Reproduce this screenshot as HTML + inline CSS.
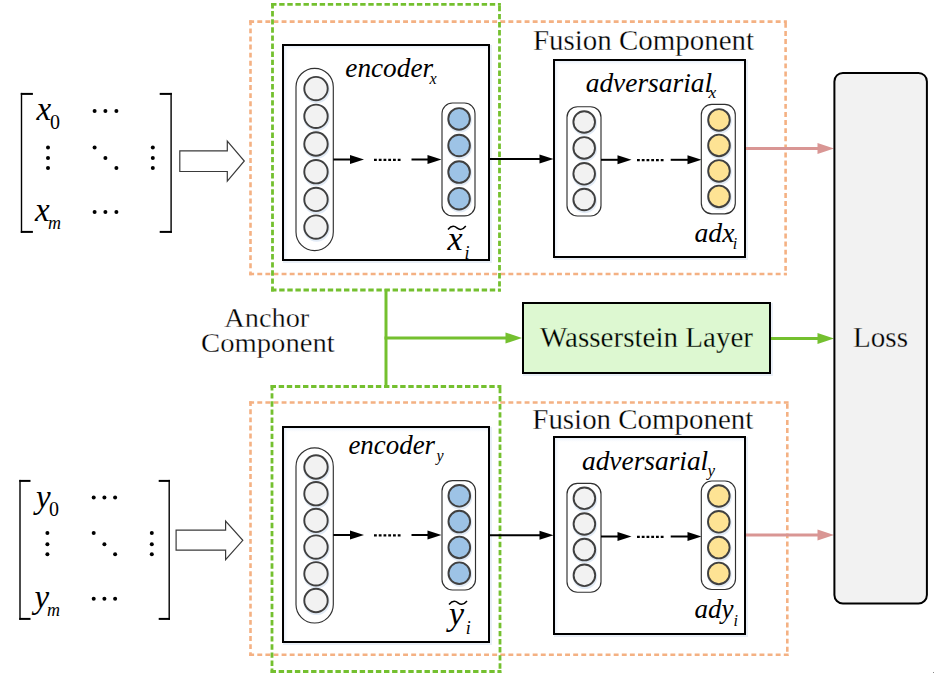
<!DOCTYPE html><html><head><meta charset="utf-8"><style>html,body{margin:0;padding:0;background:#fff;overflow:hidden}svg{display:block}text{font-family:"Liberation Serif",serif;fill:#000}</style></head><body>
<svg width="934" height="681" viewBox="0 0 934 681">
<defs><linearGradient id="gt" x1="0" y1="0" x2="0" y2="1"><stop offset="0" stop-color="#e6eef9"/><stop offset="1" stop-color="#fff" stop-opacity="0"/></linearGradient><linearGradient id="gl" x1="0" y1="0" x2="1" y2="0"><stop offset="0" stop-color="#e6eef9"/><stop offset="1" stop-color="#fff" stop-opacity="0"/></linearGradient></defs>
<rect x="20.8" y="92.9" width="1.4" height="140.0" fill="#000"/>
<rect x="20.8" y="92.9" width="12.1" height="2" fill="#000"/>
<rect x="20.8" y="230.9" width="12.1" height="2" fill="#000"/>
<rect x="170.4" y="92.9" width="1.4" height="140.0" fill="#000"/>
<rect x="159.7" y="92.9" width="12.1" height="2" fill="#000"/>
<rect x="159.7" y="230.9" width="12.1" height="2" fill="#000"/>
<circle cx="94.6" cy="110.9" r="2.0" fill="#000"/>
<circle cx="94.6" cy="211.9" r="2.0" fill="#000"/>
<circle cx="105.4" cy="110.9" r="2.0" fill="#000"/>
<circle cx="105.4" cy="211.9" r="2.0" fill="#000"/>
<circle cx="116.4" cy="110.9" r="2.0" fill="#000"/>
<circle cx="116.4" cy="211.9" r="2.0" fill="#000"/>
<circle cx="48" cy="147.4" r="2.0" fill="#000"/>
<circle cx="94.6" cy="147.4" r="2.0" fill="#000"/>
<circle cx="152.8" cy="147.4" r="2.0" fill="#000"/>
<circle cx="48" cy="157.9" r="2.0" fill="#000"/>
<circle cx="105.4" cy="157.9" r="2.0" fill="#000"/>
<circle cx="152.8" cy="157.9" r="2.0" fill="#000"/>
<circle cx="48" cy="168" r="2.0" fill="#000"/>
<circle cx="116.4" cy="168" r="2.0" fill="#000"/>
<circle cx="152.8" cy="168" r="2.0" fill="#000"/>
<text x="36.5" y="120" font-size="33" font-style="italic">x</text>
<text x="50" y="129.3" font-size="20">0</text>
<text x="35" y="221" font-size="33" font-style="italic">x</text>
<text x="48" y="229.2" font-size="18" font-style="italic">m</text>
<rect x="19.3" y="479.9" width="1.4" height="140.0" fill="#000"/>
<rect x="19.3" y="479.9" width="11.2" height="2" fill="#000"/>
<rect x="19.3" y="617.9" width="11.2" height="2" fill="#000"/>
<rect x="168.5" y="479.9" width="1.4" height="140.0" fill="#000"/>
<rect x="158.7" y="479.9" width="11.2" height="2" fill="#000"/>
<rect x="158.7" y="617.9" width="11.2" height="2" fill="#000"/>
<circle cx="93.7" cy="497.5" r="2.0" fill="#000"/>
<circle cx="93.7" cy="598.7" r="2.0" fill="#000"/>
<circle cx="104.4" cy="497.5" r="2.0" fill="#000"/>
<circle cx="104.4" cy="598.7" r="2.0" fill="#000"/>
<circle cx="115.1" cy="497.5" r="2.0" fill="#000"/>
<circle cx="115.1" cy="598.7" r="2.0" fill="#000"/>
<circle cx="47.4" cy="533" r="2.0" fill="#000"/>
<circle cx="93.7" cy="533" r="2.0" fill="#000"/>
<circle cx="151.8" cy="533" r="2.0" fill="#000"/>
<circle cx="47.4" cy="544.3" r="2.0" fill="#000"/>
<circle cx="104.4" cy="544.3" r="2.0" fill="#000"/>
<circle cx="151.8" cy="544.3" r="2.0" fill="#000"/>
<circle cx="47.4" cy="554.2" r="2.0" fill="#000"/>
<circle cx="115.1" cy="554.2" r="2.0" fill="#000"/>
<circle cx="151.8" cy="554.2" r="2.0" fill="#000"/>
<text x="36" y="507.5" font-size="33" font-style="italic">y</text>
<text x="49" y="516" font-size="20">0</text>
<text x="34.5" y="608" font-size="33" font-style="italic">y</text>
<text x="47" y="615.8" font-size="18" font-style="italic">m</text>
<polygon points="179.8,150.8 227.3,150.8 227.3,141.2 244.3,161 227.3,181.2 227.3,171.5 179.8,171.5" fill="#fff" stroke="#3a3a3a" stroke-width="1.2" stroke-linejoin="miter"/>
<polygon points="176.1,530.1 225.6,530.1 225.6,521 242.8,540.3 225.6,559.6 225.6,550.2 176.1,550.2" fill="#fff" stroke="#3a3a3a" stroke-width="1.2" stroke-linejoin="miter"/>
<line x1="249.2" y1="21.6" x2="786.9" y2="21.6" stroke="#f4b183" stroke-width="2.6" stroke-dasharray="4.9 3.2"/>
<line x1="785.6" y1="22.9" x2="785.6" y2="275.3" stroke="#f4b183" stroke-width="2.6" stroke-dasharray="4.9 3.2"/>
<line x1="249.2" y1="274" x2="786.9" y2="274" stroke="#f4b183" stroke-width="2.6" stroke-dasharray="4.9 3.2"/>
<line x1="250.5" y1="20.3" x2="250.5" y2="275.3" stroke="#f4b183" stroke-width="2.6" stroke-dasharray="4.9 3.2"/>
<line x1="271.1" y1="4.4" x2="500.9" y2="4.4" stroke="#74c02f" stroke-width="2.8" stroke-dasharray="5.4 2.7"/>
<line x1="499.5" y1="5.8" x2="499.5" y2="291.4" stroke="#74c02f" stroke-width="2.8" stroke-dasharray="5.4 2.7"/>
<line x1="271.1" y1="290" x2="500.9" y2="290" stroke="#74c02f" stroke-width="2.8" stroke-dasharray="5.4 2.7"/>
<line x1="272.5" y1="3.0" x2="272.5" y2="291.4" stroke="#74c02f" stroke-width="2.8" stroke-dasharray="5.4 2.7"/>
<rect x="284.5" y="46.5" width="206" height="215" rx="0" fill="none" stroke="#e9eff7" stroke-width="3"/>
<rect x="283" y="45" width="206" height="215" rx="0" fill="#fff" stroke="none"/>
<rect x="284" y="46" width="204" height="5" fill="url(#gt)"/>
<rect x="284" y="46" width="5" height="213" fill="url(#gl)"/>
<rect x="283" y="45" width="206" height="215" rx="0" fill="none" stroke="#000" stroke-width="2"/>
<rect x="296" y="68.3" width="37.3" height="182.3" rx="18.6" fill="#fff" stroke="#303030" stroke-width="1.15"/>
<circle cx="316.6" cy="90.0" r="12.1" fill="none" stroke="#e2ebf6" stroke-width="2.2"/>
<circle cx="316.6" cy="117.7" r="12.1" fill="none" stroke="#e2ebf6" stroke-width="2.2"/>
<circle cx="316.6" cy="145.4" r="12.1" fill="none" stroke="#e2ebf6" stroke-width="2.2"/>
<circle cx="316.6" cy="173.1" r="12.1" fill="none" stroke="#e2ebf6" stroke-width="2.2"/>
<circle cx="316.6" cy="200.8" r="12.1" fill="none" stroke="#e2ebf6" stroke-width="2.2"/>
<circle cx="316.6" cy="228.5" r="12.1" fill="none" stroke="#e2ebf6" stroke-width="2.2"/>
<circle cx="316" cy="88.6" r="11.7" fill="#f2f2f2" stroke="#404040" stroke-width="1.9"/>
<circle cx="316" cy="116.3" r="11.7" fill="#f2f2f2" stroke="#404040" stroke-width="1.9"/>
<circle cx="316" cy="144.0" r="11.7" fill="#f2f2f2" stroke="#404040" stroke-width="1.9"/>
<circle cx="316" cy="171.7" r="11.7" fill="#f2f2f2" stroke="#404040" stroke-width="1.9"/>
<circle cx="316" cy="199.4" r="11.7" fill="#f2f2f2" stroke="#404040" stroke-width="1.9"/>
<circle cx="316" cy="227.1" r="11.7" fill="#f2f2f2" stroke="#404040" stroke-width="1.9"/>
<line x1="333.3" y1="159.5" x2="351" y2="159.5" stroke="#000" stroke-width="2"/>
<polygon points="350,155.0 364,159.5 350,164.0" fill="#000"/>
<line x1="374" y1="159.9" x2="401" y2="159.9" stroke="#000" stroke-width="2.3" stroke-dasharray="2.8 1.95"/>
<line x1="411.5" y1="159.5" x2="428.5" y2="159.5" stroke="#000" stroke-width="2"/>
<polygon points="427.5,155.0 441.5,159.5 427.5,164.0" fill="#000"/>
<rect x="442" y="103" width="33" height="112.9" rx="10.5" fill="#fff" stroke="#303030" stroke-width="1.15"/>
<circle cx="459.7" cy="120.3" r="11.200000000000001" fill="none" stroke="#e2ebf6" stroke-width="2.2"/>
<circle cx="459.7" cy="146.9" r="11.200000000000001" fill="none" stroke="#e2ebf6" stroke-width="2.2"/>
<circle cx="459.7" cy="173.5" r="11.200000000000001" fill="none" stroke="#e2ebf6" stroke-width="2.2"/>
<circle cx="459.7" cy="200.1" r="11.200000000000001" fill="none" stroke="#e2ebf6" stroke-width="2.2"/>
<circle cx="459.1" cy="118.9" r="10.8" fill="#9dc3e6" stroke="#404040" stroke-width="1.9"/>
<circle cx="459.1" cy="145.5" r="10.8" fill="#9dc3e6" stroke="#404040" stroke-width="1.9"/>
<circle cx="459.1" cy="172.1" r="10.8" fill="#9dc3e6" stroke="#404040" stroke-width="1.9"/>
<circle cx="459.1" cy="198.7" r="10.8" fill="#9dc3e6" stroke="#404040" stroke-width="1.9"/>
<line x1="489" y1="159" x2="540.5" y2="159" stroke="#000" stroke-width="2"/>
<polygon points="539.5,154.5 553.5,159 539.5,163.5" fill="#000"/>
<rect x="555.5" y="61.5" width="191" height="197" rx="0" fill="none" stroke="#e9eff7" stroke-width="3"/>
<rect x="554" y="60" width="191" height="197" rx="0" fill="#fff" stroke="none"/>
<rect x="555" y="61" width="189" height="5" fill="url(#gt)"/>
<rect x="555" y="61" width="5" height="195" fill="url(#gl)"/>
<rect x="554" y="60" width="191" height="197" rx="0" fill="none" stroke="#000" stroke-width="2"/>
<rect x="567" y="106.7" width="34" height="109.3" rx="10.5" fill="#fff" stroke="#303030" stroke-width="1.15"/>
<circle cx="584.8" cy="123.4" r="11.200000000000001" fill="none" stroke="#e2ebf6" stroke-width="2.2"/>
<circle cx="584.8" cy="149.3" r="11.200000000000001" fill="none" stroke="#e2ebf6" stroke-width="2.2"/>
<circle cx="584.8" cy="175.2" r="11.200000000000001" fill="none" stroke="#e2ebf6" stroke-width="2.2"/>
<circle cx="584.8" cy="200.9" r="11.200000000000001" fill="none" stroke="#e2ebf6" stroke-width="2.2"/>
<circle cx="584.2" cy="122" r="10.8" fill="#f2f2f2" stroke="#404040" stroke-width="1.9"/>
<circle cx="584.2" cy="147.9" r="10.8" fill="#f2f2f2" stroke="#404040" stroke-width="1.9"/>
<circle cx="584.2" cy="173.8" r="10.8" fill="#f2f2f2" stroke="#404040" stroke-width="1.9"/>
<circle cx="584.2" cy="199.5" r="10.8" fill="#f2f2f2" stroke="#404040" stroke-width="1.9"/>
<line x1="601" y1="159.8" x2="618.5" y2="159.8" stroke="#000" stroke-width="2"/>
<polygon points="617.5,155.3 631.5,159.8 617.5,164.3" fill="#000"/>
<line x1="637" y1="160.10000000000002" x2="664" y2="160.10000000000002" stroke="#000" stroke-width="2.3" stroke-dasharray="2.8 1.95"/>
<line x1="670.7" y1="159.8" x2="688.5" y2="159.8" stroke="#000" stroke-width="2"/>
<polygon points="687.5,155.3 701.5,159.8 687.5,164.3" fill="#000"/>
<rect x="701.3" y="104.3" width="34.0" height="109.5" rx="10.5" fill="#fff" stroke="#303030" stroke-width="1.15"/>
<circle cx="719.6" cy="121.3" r="11.200000000000001" fill="none" stroke="#e2ebf6" stroke-width="2.2"/>
<circle cx="719.6" cy="146.8" r="11.200000000000001" fill="none" stroke="#e2ebf6" stroke-width="2.2"/>
<circle cx="719.6" cy="172.3" r="11.200000000000001" fill="none" stroke="#e2ebf6" stroke-width="2.2"/>
<circle cx="719.6" cy="197.8" r="11.200000000000001" fill="none" stroke="#e2ebf6" stroke-width="2.2"/>
<circle cx="719" cy="119.9" r="10.8" fill="#fee394" stroke="#404040" stroke-width="1.9"/>
<circle cx="719" cy="145.4" r="10.8" fill="#fee394" stroke="#404040" stroke-width="1.9"/>
<circle cx="719" cy="170.9" r="10.8" fill="#fee394" stroke="#404040" stroke-width="1.9"/>
<circle cx="719" cy="196.4" r="10.8" fill="#fee394" stroke="#404040" stroke-width="1.9"/>
<line x1="249.2" y1="402.5" x2="788.6" y2="402.5" stroke="#f4b183" stroke-width="2.6" stroke-dasharray="4.9 3.2"/>
<line x1="787.3" y1="403.8" x2="787.3" y2="656.0" stroke="#f4b183" stroke-width="2.6" stroke-dasharray="4.9 3.2"/>
<line x1="249.2" y1="654.7" x2="788.6" y2="654.7" stroke="#f4b183" stroke-width="2.6" stroke-dasharray="4.9 3.2"/>
<line x1="250.5" y1="401.2" x2="250.5" y2="656.0" stroke="#f4b183" stroke-width="2.6" stroke-dasharray="4.9 3.2"/>
<line x1="270.6" y1="386.5" x2="501.4" y2="386.5" stroke="#74c02f" stroke-width="2.8" stroke-dasharray="5.4 2.7"/>
<line x1="500" y1="387.9" x2="500" y2="672.9" stroke="#74c02f" stroke-width="2.8" stroke-dasharray="5.4 2.7"/>
<line x1="270.6" y1="671.5" x2="501.4" y2="671.5" stroke="#74c02f" stroke-width="2.8" stroke-dasharray="5.4 2.7"/>
<line x1="272" y1="385.1" x2="272" y2="672.9" stroke="#74c02f" stroke-width="2.8" stroke-dasharray="5.4 2.7"/>
<rect x="284.5" y="428.5" width="206" height="215" rx="0" fill="none" stroke="#e9eff7" stroke-width="3"/>
<rect x="283" y="427" width="206" height="215" rx="0" fill="#fff" stroke="none"/>
<rect x="284" y="428" width="204" height="5" fill="url(#gt)"/>
<rect x="284" y="428" width="5" height="213" fill="url(#gl)"/>
<rect x="283" y="427" width="206" height="215" rx="0" fill="none" stroke="#000" stroke-width="2"/>
<rect x="296" y="447.8" width="37.3" height="175.2" rx="18.6" fill="#fff" stroke="#303030" stroke-width="1.15"/>
<circle cx="316.6" cy="468.4" r="12.1" fill="none" stroke="#e2ebf6" stroke-width="2.2"/>
<circle cx="316.6" cy="495.1" r="12.1" fill="none" stroke="#e2ebf6" stroke-width="2.2"/>
<circle cx="316.6" cy="521.8" r="12.1" fill="none" stroke="#e2ebf6" stroke-width="2.2"/>
<circle cx="316.6" cy="548.5" r="12.1" fill="none" stroke="#e2ebf6" stroke-width="2.2"/>
<circle cx="316.6" cy="575.2" r="12.1" fill="none" stroke="#e2ebf6" stroke-width="2.2"/>
<circle cx="316.6" cy="601.9" r="12.1" fill="none" stroke="#e2ebf6" stroke-width="2.2"/>
<circle cx="316" cy="467.0" r="11.7" fill="#f2f2f2" stroke="#404040" stroke-width="1.9"/>
<circle cx="316" cy="493.7" r="11.7" fill="#f2f2f2" stroke="#404040" stroke-width="1.9"/>
<circle cx="316" cy="520.4" r="11.7" fill="#f2f2f2" stroke="#404040" stroke-width="1.9"/>
<circle cx="316" cy="547.1" r="11.7" fill="#f2f2f2" stroke="#404040" stroke-width="1.9"/>
<circle cx="316" cy="573.8" r="11.7" fill="#f2f2f2" stroke="#404040" stroke-width="1.9"/>
<circle cx="316" cy="600.5" r="11.7" fill="#f2f2f2" stroke="#404040" stroke-width="1.9"/>
<line x1="333.3" y1="535" x2="351" y2="535" stroke="#000" stroke-width="2"/>
<polygon points="350,530.5 364,535 350,539.5" fill="#000"/>
<line x1="374" y1="535.4" x2="401" y2="535.4" stroke="#000" stroke-width="2.3" stroke-dasharray="2.8 1.95"/>
<line x1="411.5" y1="535" x2="428.5" y2="535" stroke="#000" stroke-width="2"/>
<polygon points="427.5,530.5 441.5,535 427.5,539.5" fill="#000"/>
<rect x="442" y="480.6" width="33.5" height="109.4" rx="10.5" fill="#fff" stroke="#303030" stroke-width="1.15"/>
<circle cx="459.9" cy="497.2" r="11.200000000000001" fill="none" stroke="#e2ebf6" stroke-width="2.2"/>
<circle cx="459.9" cy="523.0" r="11.200000000000001" fill="none" stroke="#e2ebf6" stroke-width="2.2"/>
<circle cx="459.9" cy="548.8" r="11.200000000000001" fill="none" stroke="#e2ebf6" stroke-width="2.2"/>
<circle cx="459.9" cy="574.6" r="11.200000000000001" fill="none" stroke="#e2ebf6" stroke-width="2.2"/>
<circle cx="459.3" cy="495.8" r="10.8" fill="#9dc3e6" stroke="#404040" stroke-width="1.9"/>
<circle cx="459.3" cy="521.6" r="10.8" fill="#9dc3e6" stroke="#404040" stroke-width="1.9"/>
<circle cx="459.3" cy="547.4" r="10.8" fill="#9dc3e6" stroke="#404040" stroke-width="1.9"/>
<circle cx="459.3" cy="573.2" r="10.8" fill="#9dc3e6" stroke="#404040" stroke-width="1.9"/>
<line x1="489" y1="535.2" x2="540.5" y2="535.2" stroke="#000" stroke-width="2"/>
<polygon points="539.5,530.7 553.5,535.2 539.5,539.7" fill="#000"/>
<rect x="555.5" y="438.5" width="191" height="197" rx="0" fill="none" stroke="#e9eff7" stroke-width="3"/>
<rect x="554" y="437" width="191" height="197" rx="0" fill="#fff" stroke="none"/>
<rect x="555" y="438" width="189" height="5" fill="url(#gt)"/>
<rect x="555" y="438" width="5" height="195" fill="url(#gl)"/>
<rect x="554" y="437" width="191" height="197" rx="0" fill="none" stroke="#000" stroke-width="2"/>
<rect x="567" y="483.4" width="34" height="108.8" rx="10.5" fill="#fff" stroke="#303030" stroke-width="1.15"/>
<circle cx="585.0" cy="499.7" r="11.200000000000001" fill="none" stroke="#e2ebf6" stroke-width="2.2"/>
<circle cx="585.0" cy="525.4" r="11.200000000000001" fill="none" stroke="#e2ebf6" stroke-width="2.2"/>
<circle cx="585.0" cy="551.0" r="11.200000000000001" fill="none" stroke="#e2ebf6" stroke-width="2.2"/>
<circle cx="585.0" cy="576.7" r="11.200000000000001" fill="none" stroke="#e2ebf6" stroke-width="2.2"/>
<circle cx="584.4" cy="498.3" r="10.8" fill="#f2f2f2" stroke="#404040" stroke-width="1.9"/>
<circle cx="584.4" cy="524" r="10.8" fill="#f2f2f2" stroke="#404040" stroke-width="1.9"/>
<circle cx="584.4" cy="549.6" r="10.8" fill="#f2f2f2" stroke="#404040" stroke-width="1.9"/>
<circle cx="584.4" cy="575.3" r="10.8" fill="#f2f2f2" stroke="#404040" stroke-width="1.9"/>
<line x1="601" y1="536.5" x2="618.5" y2="536.5" stroke="#000" stroke-width="2"/>
<polygon points="617.5,532.0 631.5,536.5 617.5,541.0" fill="#000"/>
<line x1="637" y1="536.8" x2="664" y2="536.8" stroke="#000" stroke-width="2.3" stroke-dasharray="2.8 1.95"/>
<line x1="670.7" y1="536.5" x2="688.5" y2="536.5" stroke="#000" stroke-width="2"/>
<polygon points="687.5,532.0 701.5,536.5 687.5,541.0" fill="#000"/>
<rect x="701.3" y="481" width="34.2" height="108.5" rx="10.5" fill="#fff" stroke="#303030" stroke-width="1.15"/>
<circle cx="719.4" cy="497.4" r="11.200000000000001" fill="none" stroke="#e2ebf6" stroke-width="2.2"/>
<circle cx="719.4" cy="523.2" r="11.200000000000001" fill="none" stroke="#e2ebf6" stroke-width="2.2"/>
<circle cx="719.4" cy="549.0" r="11.200000000000001" fill="none" stroke="#e2ebf6" stroke-width="2.2"/>
<circle cx="719.4" cy="574.8" r="11.200000000000001" fill="none" stroke="#e2ebf6" stroke-width="2.2"/>
<circle cx="718.8" cy="496" r="10.8" fill="#fee394" stroke="#404040" stroke-width="1.9"/>
<circle cx="718.8" cy="521.8" r="10.8" fill="#fee394" stroke="#404040" stroke-width="1.9"/>
<circle cx="718.8" cy="547.6" r="10.8" fill="#fee394" stroke="#404040" stroke-width="1.9"/>
<circle cx="718.8" cy="573.4" r="10.8" fill="#fee394" stroke="#404040" stroke-width="1.9"/>
<line x1="746" y1="148.5" x2="818.5" y2="148.5" stroke="#d99694" stroke-width="3"/>
<polygon points="817.5,143.0 834,148.5 817.5,154.0" fill="#d99694"/>
<line x1="746" y1="535" x2="818.5" y2="535" stroke="#d99694" stroke-width="3"/>
<polygon points="817.5,529.5 834,535 817.5,540.5" fill="#d99694"/>
<text x="533" y="49.5" font-size="29.5" textLength="221" lengthAdjust="spacingAndGlyphs" stroke="#fff" stroke-width="0.3">Fusion Component</text>
<text x="345.3" y="76.8" font-size="27" font-style="italic" textLength="87.8" lengthAdjust="spacingAndGlyphs">encoder</text>
<text x="429.5" y="83.9" font-size="16" font-style="italic">x</text>
<text x="585.7" y="91.5" font-size="27" font-style="italic" textLength="126.4" lengthAdjust="spacingAndGlyphs">adversarial</text>
<text x="708.5" y="97.9" font-size="17.5" font-style="italic">x</text>
<text x="447.5" y="249.9" font-size="34" font-style="italic">x</text>
<text x="464.5" y="258.5" font-size="18" font-style="italic">i</text>
<path d="M448,229.4 C451.56,225.2 454.23,225.6 456.9,227.8 C459.57,230 462.24,230.4 465.8,226.0" fill="none" stroke="#000" stroke-width="1.5"/>
<text x="694.5" y="241.7" font-size="26.5" font-style="italic" textLength="40" lengthAdjust="spacingAndGlyphs">adx</text>
<text x="732.8" y="248.7" font-size="16" font-style="italic">i</text>
<text x="532.3" y="429.4" font-size="29.5" textLength="221" lengthAdjust="spacingAndGlyphs" stroke="#fff" stroke-width="0.3">Fusion Component</text>
<text x="348.4" y="454.4" font-size="27" font-style="italic" textLength="86.7" lengthAdjust="spacingAndGlyphs">encoder</text>
<text x="436.6" y="461" font-size="16" font-style="italic">y</text>
<text x="582" y="469.6" font-size="27" font-style="italic" textLength="126.2" lengthAdjust="spacingAndGlyphs">adversarial</text>
<text x="707.6" y="475.6" font-size="17" font-style="italic">y</text>
<text x="449" y="625" font-size="34" font-style="italic">y</text>
<text x="465.8" y="634" font-size="18" font-style="italic">i</text>
<path d="M449,604.4 C452.6,600.2 455.3,600.6 458.0,602.8 C460.7,605 463.4,605.4 467,601.0" fill="none" stroke="#000" stroke-width="1.5"/>
<text x="694.5" y="617.5" font-size="27" font-style="italic">ady</text>
<text x="733.5" y="625.8" font-size="16" font-style="italic">i</text>
<line x1="386" y1="289" x2="386" y2="387" stroke="#74c02f" stroke-width="3"/>
<line x1="384.5" y1="338" x2="506.5" y2="338" stroke="#74c02f" stroke-width="3"/>
<polygon points="505.5,332.5 522,338 505.5,343.5" fill="#74c02f"/>
<rect x="524.5" y="304.5" width="247" height="70" rx="0" fill="none" stroke="#e9eff7" stroke-width="3"/>
<rect x="523" y="303" width="247" height="70" rx="0" fill="#ddf8d1" stroke="none"/>
<rect x="523" y="303" width="247" height="70" rx="0" fill="none" stroke="#000" stroke-width="2"/>
<text x="540" y="347.2" font-size="29.5" textLength="213" lengthAdjust="spacingAndGlyphs" stroke="#ddf8d1" stroke-width="0.3">Wasserstein Layer</text>
<line x1="771" y1="338.5" x2="818.5" y2="338.5" stroke="#74c02f" stroke-width="3"/>
<polygon points="817.5,333.0 834,338.5 817.5,344.0" fill="#74c02f"/>
<rect x="834.4" y="72.9" width="92.5" height="530.6" rx="8.5" fill="#f2f2f2" stroke="none"/>
<rect x="834.4" y="72.9" width="92.5" height="530.6" rx="8.5" fill="none" stroke="#000" stroke-width="2"/>
<text x="853" y="347.1" font-size="29.5" textLength="55" lengthAdjust="spacingAndGlyphs" stroke="#f2f2f2" stroke-width="0.3">Loss</text>
<text x="224.3" y="327" font-size="27" textLength="85" lengthAdjust="spacingAndGlyphs" stroke="#fff" stroke-width="0.3">Anchor</text>
<text x="201.1" y="352.2" font-size="27" textLength="133.6" lengthAdjust="spacingAndGlyphs" stroke="#fff" stroke-width="0.3">Component</text>
<rect x="933" y="672" width="1" height="1" fill="#888"/>
</svg></body></html>
